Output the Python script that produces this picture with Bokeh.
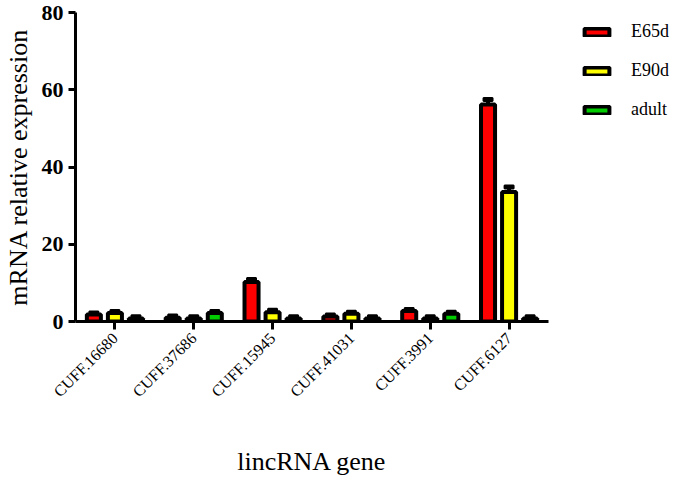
import math
from bokeh.plotting import figure
from bokeh.models import FactorRange, Legend, LegendItem, ColumnDataSource
from bokeh.transform import dodge
from bokeh.embed import file_html
from bokeh.resources import INLINE

genes = ["CUFF.16680", "CUFF.37686", "CUFF.15945", "CUFF.41031", "CUFF.3991", "CUFF.6127"]
series = ["E65d", "E90d", "adult"]
colors = ["#ff0000", "#ffff00", "#00cc00"]
e65d = [1.8, 1.0, 10.2, 1.3, 2.7, 56.2]
e90d = [2.2, 0.8, 2.4, 2.0, 0.8, 33.5]
adult = [0.8, 2.2, 0.8, 0.8, 2.0, 0.8]
e65d_err = [0.4, 0.4, 0.7, 0.4, 0.4, 1.3]
e90d_err = [0.4, 0.4, 0.5, 0.4, 0.4, 1.3]
adult_err = [0.4, 0.4, 0.4, 0.4, 0.4, 0.4]

p = figure(width=669, height=465, x_range=FactorRange(*genes, range_padding=0),
           y_range=(0, 80), output_backend="svg", toolbar_location=None,
           frame_width=473, frame_height=309,
           min_border_left=71, min_border_top=12, min_border_bottom=144, min_border_right=125)
p.outline_line_color = None
p.grid.visible = False

offsets = [-0.267, 0.0, 0.267]
vals = [e65d, e90d, adult]
errs = [e65d_err, e90d_err, adult_err]
items = []
for s, c, off, v, e in zip(series, colors, offsets, vals, errs):
    src = ColumnDataSource(dict(x=genes, top=v, hi=[a + b for a, b in zip(v, e)]))
    xd = dodge("x", off, range=p.x_range)
    p.segment(x0=xd, y0="top", x1=xd, y1="hi", source=src, line_color="black", line_width=4)
    p.rect(x=xd, y="hi", width=9, height=3, width_units="screen", height_units="screen",
           source=src, fill_color="black", line_color="black", line_width=2)
    r = p.vbar(x=xd, top="top", width=0.178, bottom=0, source=src,
               fill_color=c, line_color="black", line_width=4)
    items.append(LegendItem(label=s, renderers=[r]))

legend = Legend(items=items, location=(33, 201), glyph_width=31, glyph_height=10, label_height=20,
                spacing=18, label_standoff=19, padding=0, margin=0,
                border_line_alpha=0, background_fill_alpha=0,
                label_text_font="Liberation Serif", label_text_font_size="18px",
                label_text_color="black")
p.add_layout(legend, "right")

for ax in [p.xaxis[0], p.yaxis[0]]:
    ax.axis_line_width = 3
    ax.major_tick_line_width = 3
    ax.minor_tick_line_color = None
    ax.axis_label_text_font = "Liberation Serif"
    ax.axis_label_text_font_style = "normal"
    ax.axis_label_text_font_size = "26px"
    ax.axis_label_text_color = "black"
    ax.major_label_text_font = "Liberation Serif"
    ax.major_label_text_color = "black"

p.yaxis.ticker = [0, 20, 40, 60, 80]
p.yaxis.major_tick_out = 7
p.yaxis.major_tick_in = 0
p.yaxis.major_label_text_font_size = "22px"
p.yaxis.major_label_text_font_style = "bold"
p.yaxis.axis_label = "mRNA relative expression"
p.yaxis.axis_label_standoff = 6

p.xaxis.major_tick_out = 8
p.xaxis.major_tick_in = 0
p.xaxis.major_label_orientation = math.pi / 4
p.xaxis.major_label_text_font_size = "16px"
p.xaxis.major_label_standoff = 6
p.xaxis.axis_label = "lincRNA gene"
p.xaxis.axis_label_standoff = 38

open("out.html", "w").write(file_html(p, INLINE))
